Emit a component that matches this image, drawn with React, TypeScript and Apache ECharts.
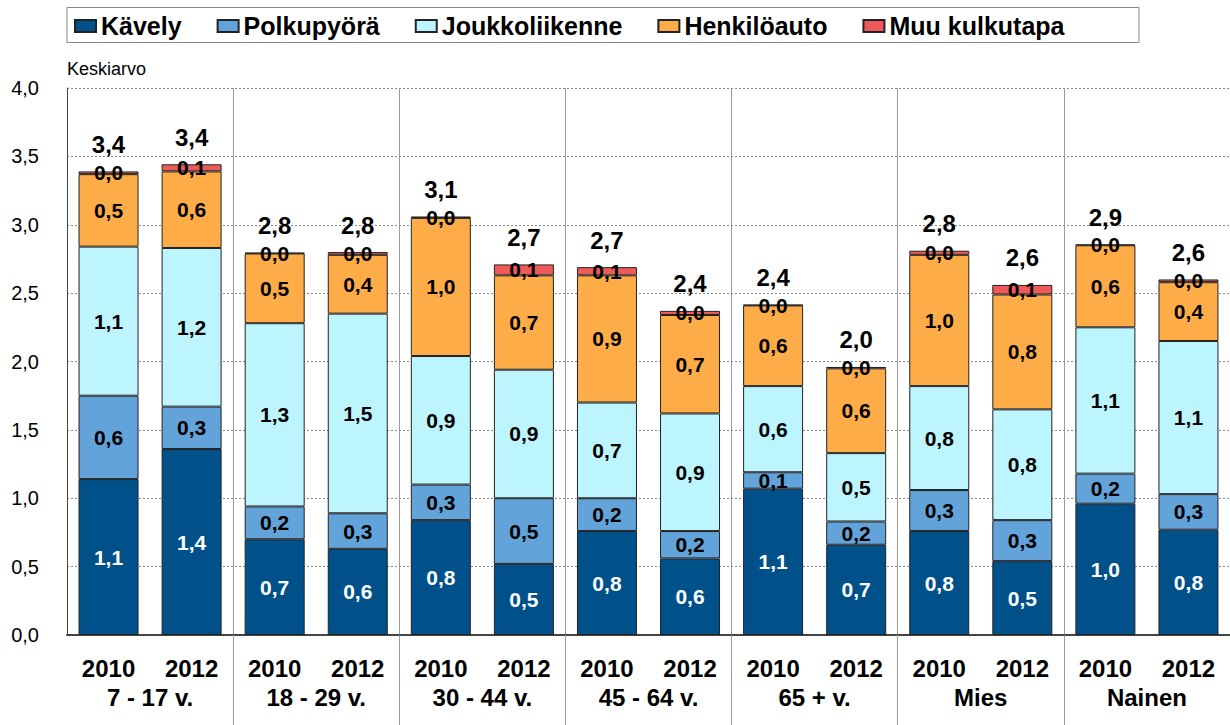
import React, { useEffect, useRef } from "react";
import * as echarts from "echarts";

const groups = ["7 - 17 v.", "18 - 29 v.", "30 - 44 v.", "45 - 64 v.", "65 + v.", "Mies", "Nainen"];
const years = ["2010", "2012"];
const categories = groups.flatMap((g) => years.map((y) => `${g}|${y}`));

const kavely = [1.14, 1.36, 0.7, 0.63, 0.84, 0.52, 0.76, 0.56, 1.07, 0.66, 0.76, 0.54, 0.96, 0.77];
const polkupyora = [0.61, 0.31, 0.24, 0.26, 0.26, 0.48, 0.24, 0.2, 0.12, 0.17, 0.3, 0.3, 0.22, 0.26];
const joukkoliikenne = [1.09, 1.16, 1.34, 1.46, 0.94, 0.94, 0.7, 0.86, 0.63, 0.5, 0.76, 0.81, 1.07, 1.12];
const henkiloauto = [0.53, 0.56, 0.51, 0.43, 1.01, 0.69, 0.93, 0.72, 0.59, 0.62, 0.96, 0.84, 0.6, 0.43];
const muu = [0.02, 0.052, 0.005, 0.02, 0.01, 0.08, 0.06, 0.03, 0.005, 0.01, 0.03, 0.07, 0.005, 0.02];

const seriesNames = ["Kävely", "Polkupyörä", "Joukkoliikenne", "Henkilöauto", "Muu kulkutapa"];
const seriesData = [kavely, polkupyora, joukkoliikenne, henkiloauto, muu];
const seriesColors = ["#00508A", "#62A3D9", "#BDF5FE", "#FDAC47", "#EE5A5A"];
const labelColors = ["#FFFFFF", "#000000", "#000000", "#000000", "#000000"];

const totals = categories.map((_, i) =>
  Math.round(seriesData.reduce((s, arr) => s + arr[i], 0) * 1000) / 1000
);

const fmt = (v: number) => v.toFixed(1).replace(".", ",");
const FONT = "'Liberation Sans', Arial, sans-serif";

export default function App() {
  const ref = useRef<HTMLDivElement>(null);
  useEffect(() => {
    if (!ref.current) return;
    const chart = echarts.init(ref.current, undefined, { renderer: "svg" });
    const bars: any[] = seriesNames.map((name, si) => ({
      name,
      type: "bar",
      stack: "total",
      xAxisIndex: 0,
      barWidth: 60,
      data: seriesData[si],
      itemStyle: { color: seriesColors[si], borderColor: "#222", borderWidth: 1 },
      label: {
        show: true,
        position: "inside",
        color: labelColors[si],
        fontFamily: FONT,
        fontWeight: "bold",
        fontSize: 21,
        formatter: (p: any) => fmt(p.value),
      },
      emphasis: { disabled: true },
    }));
    bars.push({
      name: "Yhteensä",
      type: "bar",
      stack: "total",
      xAxisIndex: 0,
      barWidth: 60,
      data: totals.map(() => 0),
      itemStyle: { color: "rgba(0,0,0,0)", borderWidth: 0 },
      label: {
        show: true,
        position: "top",
        distance: 15,
        color: "#000",
        fontFamily: FONT,
        fontWeight: "bold",
        fontSize: 24,
        formatter: (p: any) => fmt(totals[p.dataIndex]),
      },
      silent: true,
    });
    chart.setOption({
      animation: false,
      textStyle: { fontFamily: FONT },
      graphic: [
        {
          type: "rect",
          shape: { x: 67, y: 7.5, width: 1072, height: 35 },
          style: { fill: "none", stroke: "#8a8a8a", lineWidth: 1 },
          silent: true,
        },
      ],
      legend: {
        data: seriesNames,
        left: 74,
        top: 13.5,
        padding: 0,
        itemWidth: 21,
        itemHeight: 12,
        itemGap: 35,
        icon: "rect",
        selectedMode: false,
        textStyle: { fontFamily: FONT, fontWeight: "bold", fontSize: 25, color: "#000", lineHeight: 25 },
      },
      grid: { left: 67, top: 88, width: 1164, height: 547, containLabel: false },
      xAxis: [
        {
          type: "category",
          data: categories,
          position: "bottom",
          axisLine: { show: true, lineStyle: { color: "#444", width: 2 } },
          axisTick: { show: false },
          splitLine: { show: false },
          axisLabel: {
            interval: 0,
            margin: 21,
            color: "#000",
            fontFamily: FONT,
            fontWeight: "bold",
            fontSize: 24,
            formatter: (v: string) => v.split("|")[1],
          },
        },
        {
          type: "category",
          data: groups,
          position: "bottom",
          axisLine: { show: false },
          axisTick: {
            show: true,
            length: 92,
            interval: (i: number) => i !== 0,
            lineStyle: { color: "#9a9a9a", width: 1 },
          },
          splitLine: { show: true, interval: 0, lineStyle: { color: "#9a9a9a", width: 1 } },
          axisLabel: {
            interval: 0,
            margin: 50,
            color: "#000",
            fontFamily: FONT,
            fontWeight: "bold",
            fontSize: 24,
          },
        },
      ],
      yAxis: {
        type: "value",
        min: 0,
        max: 4,
        interval: 0.5,
        name: "Keskiarvo",
        nameLocation: "end",
        nameGap: 10,
        nameTextStyle: { align: "left", color: "#000", fontFamily: FONT, fontSize: 18 },
        axisLine: { show: true, lineStyle: { color: "#444", width: 1 } },
        axisTick: { show: false },
        splitLine: { show: true, lineStyle: { color: "#888", width: 1, type: [2, 2] } },
        axisLabel: {
          margin: 28,
          color: "#000",
          fontFamily: FONT,
          fontSize: 20,
          formatter: (v: number) => fmt(v),
        },
      },
      series: bars,
    });
    return () => chart.dispose();
  }, []);
  return (
    <div
      ref={ref}
      style={{ position: "absolute", left: 0, top: 0, width: 1230, height: 725, background: "#fff" }}
    />
  );
}
